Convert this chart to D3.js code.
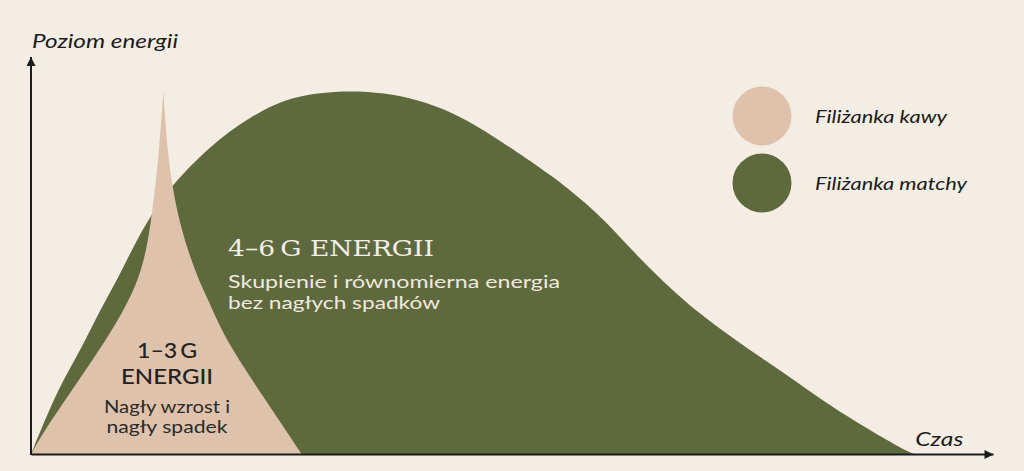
<!DOCTYPE html>
<html>
<head>
<meta charset="utf-8">
<script src="https://cdn.jsdelivr.net/npm/d3@7"></script>
<style>
  html, body { margin: 0; padding: 0; background: #f4ede4; }
  svg { display: block; }
</style>
</head>
<body>
<div id="chart"></div>
<script>
// ---- data ----
const seriesNames = ["Filiżanka kawy", "Filiżanka matchy"];
const seriesColors = ["#dfc2ab", "#5e6a3e"];
const axisLabels = ["Poziom energii", "Czas"];

const coffeeTime   = [0, 1.5, 4.25, 7.1, 9.9, 11.9, 13.4, 14.5, 15.1, 15.6, 16, 16.25, 16.5,
                      16.75, 17, 17.5, 18.25, 19.4, 20.9, 22.1, 23.9, 26.5, 29.25, 32, 33.75];
const coffeeEnergy = [0, 5.8, 14.8, 23.9, 33.2, 40.9, 47.8, 56.9, 66.2, 75.3, 84.3, 91.8, 99.5,
                      91.8, 84.3, 75.3, 66.2, 56.9, 47.8, 42.3, 33.2, 23.9, 14.8, 5.8, 0];

const matchaTime   = [0, 2.1, 4, 6.4, 8.4, 10.75, 12.75, 15.1, 18.1, 23.25, 27.4, 31.5, 35.75, 39.9,
                      44, 48.25, 52.4, 56.5, 60.75, 64.9, 70.75, 74.9, 79, 83.25, 87.4, 91.5, 95.75,
                      99.9, 104, 108.25, 110.1];
const matchaEnergy = [0, 11.3, 20.3, 29.4, 38.7, 47.8, 56.9, 66.2, 75.3, 86.3, 92.6, 97.3, 99.2, 99.7,
                      99.2, 97.3, 94, 89, 82.7, 76.6, 66.2, 56, 47, 38.7, 32.1, 25.8, 19.5,
                      12.9, 7.4, 1.9, 0];

const coffeeTitle = ["1–3\u2009G", "ENERGII"];
const coffeeNote  = ["Nagły wzrost i", "nagły spadek"];
const matchaTitle = "4–6\u2009G ENERGII";
const matchaNote  = ["Skupienie i równomierna energia", "bez nagłych spadków"];

// ---- layout ----
const W = 1024, H = 471;
const svg = d3.select("#chart").append("svg").attr("width", W).attr("height", H);
svg.append("rect").attr("width", W).attr("height", H).attr("fill", "#f4ede4");

const x = d3.scaleLinear().domain([0, 120]).range([31, 993]);
const y = d3.scaleLinear().domain([0, 109]).range([454, 57]);

const SANS = "Lato, 'Open Sans', sans-serif";
const SERIF = "'DejaVu Serif', 'Liberation Serif', serif";

// matcha area
const matcha = matchaTime.map((t, i) => ({ t, e: matchaEnergy[i] }));
const area = d3.area().x(d => x(d.t)).y0(y(0)).y1(d => y(d.e)).curve(d3.curveBasis);
svg.append("path").datum(matcha).attr("d", area).attr("fill", seriesColors[1]);

// coffee area: sharp cusp at peak -> two smooth halves
const coffee = coffeeTime.map((t, i) => ({ t, e: coffeeEnergy[i] }));
const peak = d3.maxIndex(coffee, d => d.e);
const half = d3.line().x(d => x(d.t)).y(d => y(d.e)).curve(d3.curveBasis);
const leftD = half(coffee.slice(0, peak + 1));
const rightD = half(coffee.slice(peak));
svg.append("path")
  .attr("d", leftD + "L" + rightD.slice(1) + "Z")
  .attr("fill", seriesColors[0]);

// axes with arrows
const defs = svg.append("defs");
defs.append("marker")
  .attr("id", "arrow")
  .attr("viewBox", "0 0 10 10")
  .attr("refX", 10).attr("refY", 5)
  .attr("markerWidth", 10).attr("markerHeight", 9)
  .attr("markerUnits", "userSpaceOnUse")
  .attr("orient", "auto")
  .append("path").attr("d", "M0,0L10,5L0,10Z").attr("fill", "#1b1b1b");

const xAxis = svg.append("g").attr("transform", `translate(0,${y(0)})`)
  .call(d3.axisBottom(x).tickValues([]).tickSizeOuter(0));
xAxis.select(".domain").attr("stroke", "#1b1b1b").attr("stroke-width", 2).attr("marker-end", "url(#arrow)");

const yAxis = svg.append("g").attr("transform", `translate(${x(0)},0)`)
  .call(d3.axisLeft(y).tickValues([]).tickSizeOuter(0));
yAxis.select(".domain").attr("d", `M0,${y(0) + 1}V${y(109)}`)
  .attr("stroke", "#1b1b1b").attr("stroke-width", 2).attr("marker-end", "url(#arrow)");

// axis labels
svg.append("text").text(axisLabels[0])
  .attr("x", x(0) + 1).attr("y", 48)
  .attr("font-family", SANS).attr("font-style", "italic").attr("font-size", 19)
  .attr("fill", "#1b1b1b").attr("textLength", 146).attr("lengthAdjust", "spacingAndGlyphs");
svg.append("text").text(axisLabels[1])
  .attr("x", x(110.3)).attr("y", y(0) - 8)
  .attr("font-family", SANS).attr("font-style", "italic").attr("font-size", 19)
  .attr("fill", "#1b1b1b").attr("textLength", 48).attr("lengthAdjust", "spacingAndGlyphs");

// legend
const legendWidths = [132, 152];
const leg = svg.append("g");
seriesNames.forEach((name, i) => {
  const cy = 116 + i * 67;
  leg.append("circle").attr("cx", 762).attr("cy", cy).attr("r", 29.5).attr("fill", seriesColors[i]);
  leg.append("text").text(name)
    .attr("x", 815).attr("y", cy + 7)
    .attr("font-family", SANS).attr("font-style", "italic").attr("font-size", 18)
    .attr("fill", "#1b1b1b").attr("textLength", legendWidths[i]).attr("lengthAdjust", "spacingAndGlyphs");
});

// matcha annotation
svg.append("text").text(matchaTitle)
  .attr("x", 228).attr("y", 256)
  .attr("font-family", SERIF).attr("font-size", 22)
  .attr("fill", "#f4eee6").attr("textLength", 206).attr("lengthAdjust", "spacingAndGlyphs");
const noteWidths = [332, 212];
matchaNote.forEach((s, i) => {
  svg.append("text").text(s)
    .attr("x", 228).attr("y", 288 + i * 21)
    .attr("font-family", SANS).attr("font-size", 17).attr("font-weight", 400)
    .attr("fill", "#f0e9df").attr("textLength", noteWidths[i]).attr("lengthAdjust", "spacingAndGlyphs");
});

// coffee annotation
const cx = 167;
const titleWidths = [60, 92];
coffeeTitle.forEach((s, i) => {
  svg.append("text").text(s)
    .attr("x", cx).attr("y", 358 + i * 26).attr("text-anchor", "middle")
    .attr("font-family", SANS).attr("font-size", 21).attr("font-weight", 500)
    .attr("fill", "#222").attr("textLength", titleWidths[i]).attr("lengthAdjust", "spacingAndGlyphs");
});
const cNoteWidths = [126, 121];
coffeeNote.forEach((s, i) => {
  svg.append("text").text(s)
    .attr("x", cx).attr("y", 413 + i * 20).attr("text-anchor", "middle")
    .attr("font-family", SANS).attr("font-size", 17)
    .attr("fill", "#2a2a2a").attr("textLength", cNoteWidths[i]).attr("lengthAdjust", "spacingAndGlyphs");
});
</script>
</body>
</html>
